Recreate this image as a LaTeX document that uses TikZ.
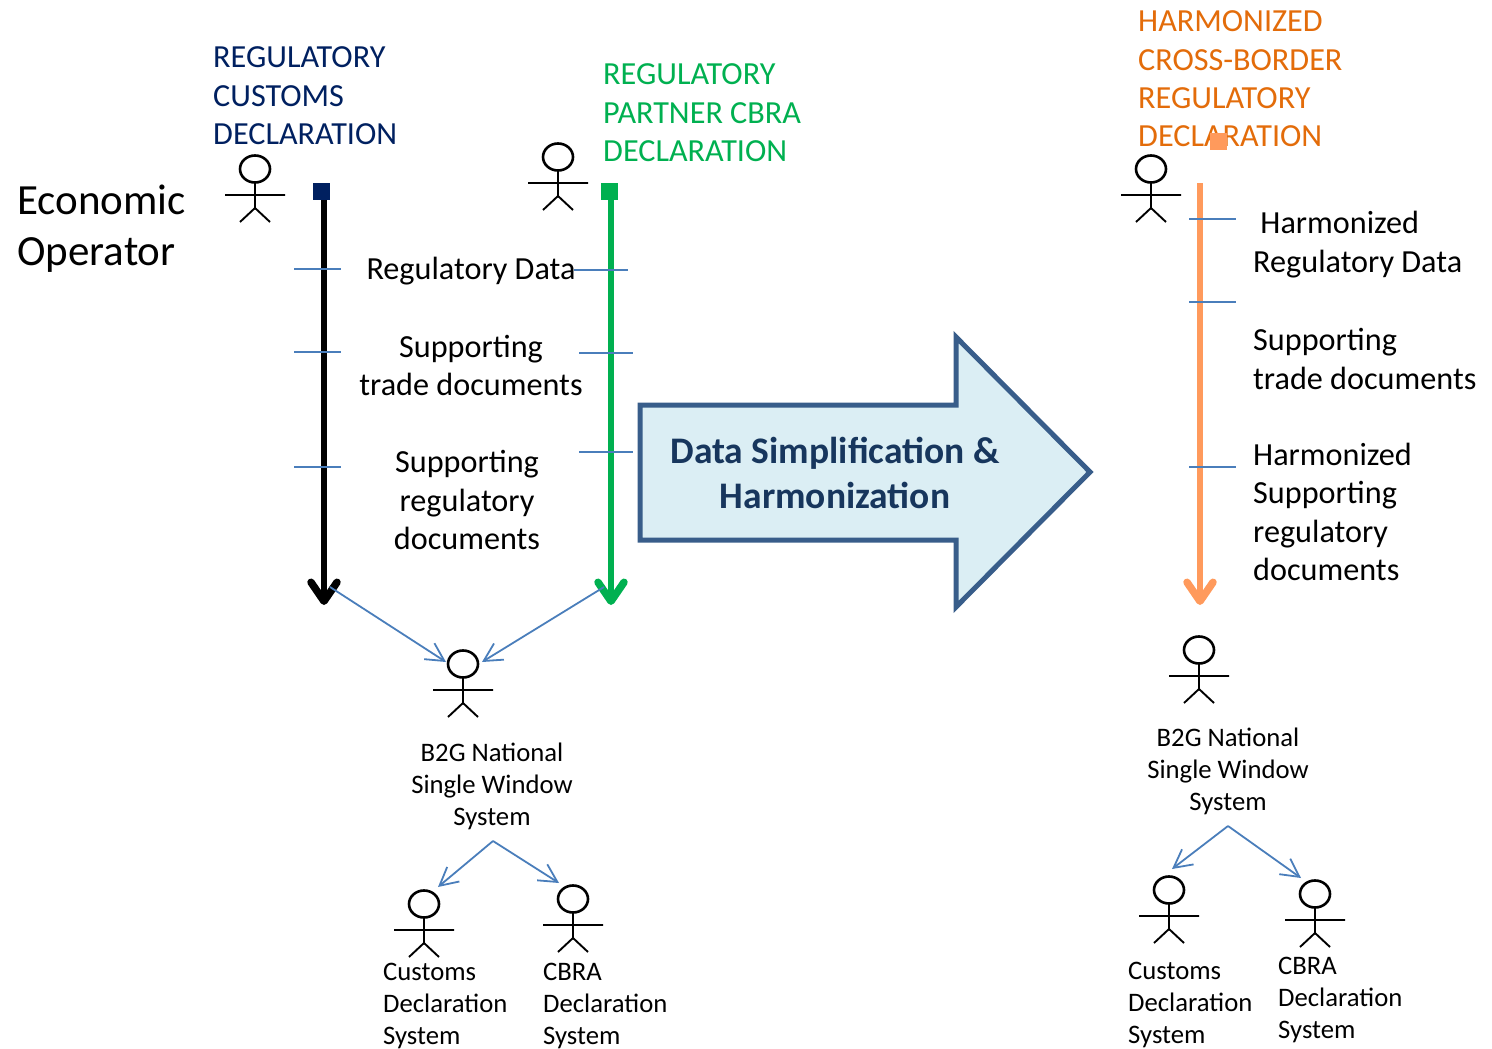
\documentclass[tikz,border=0pt]{standalone}
\usepackage{fontspec}
\setmainfont{Carlito}
\usetikzlibrary{arrows.meta}
\definecolor{navy}{HTML}{002060}
\definecolor{grn}{HTML}{00B050}
\definecolor{org}{HTML}{E36C0A}
\definecolor{peach}{HTML}{FF9A5C}
\definecolor{thin}{HTML}{4A7EBB}
\definecolor{bluedge}{HTML}{385D8A}
\definecolor{bluefill}{HTML}{DBEEF4}
\definecolor{bluetxt}{HTML}{17365D}
\tikzset{
  x=1pt,y=-1pt,
  actor/.pic={
    \draw[line width=2.6pt,fill=white] (0,-21) ellipse [x radius=15,y radius=13.5];
    \draw[line width=1.9pt] (0,-7.5) -- (0,18) (-30,5) -- (30,5) (-15,32) -- (0,18) -- (15,32);
  },
  lab/.style={inner sep=0,align=left,anchor=west,font=\fontsize{32.2}{38.4}\selectfont},
  ctr/.style={inner sep=0,align=center,anchor=center,font=\fontsize{32.2}{38.4}\selectfont},
  small/.style={inner sep=0,align=left,anchor=west,font=\fontsize{26.7}{32}\selectfont},
  smallc/.style={inner sep=0,align=center,anchor=center,font=\fontsize{26.7}{32}\selectfont},
  tick/.style={draw=thin,line width=1.5pt},
  flow/.style={line width=6.5pt,-{Straight Barb[round,length=19pt,width=26pt,line width=7.5pt]}},
  thinarrow/.style={draw=thin,line width=1.8pt,-{Straight Barb[length=18pt,width=19pt,line width=1.8pt]}},
}
\begin{document}
\begin{tikzpicture}
\useasboundingbox (0,0) rectangle (1492,1049);
% actors
\pic at (255,190) {actor};
\pic at (558,178) {actor};
\pic at (1151,190) {actor};
\pic at (463,685) {actor};
\pic at (1199,671) {actor};
\pic at (424,925) {actor};
\pic at (573,920) {actor};
\pic at (1169,911) {actor};
\pic at (1315,915) {actor};
% headings
\node[lab,text=navy] (t1) at (213,96) {REGULATORY\\CUSTOMS\\DECLARATION};
\node[lab,text=grn] (t2) at (603,113) {REGULATORY\\PARTNER CBRA\\DECLARATION};
\node[lab,text=org] (t3) at (1138,79) {HARMONIZED\\CROSS-BORDER\\REGULATORY\\DECLARATION};
\node[inner sep=0,align=left,anchor=west,font=\fontsize{43}{51}\selectfont] (eo) at (17,229) {Economic\\Operator};
% flow lines
\coordinate (a1) at (324,183); \coordinate (a2) at (324,605);
\coordinate (b1) at (611,183); \coordinate (b2) at (611,605);
\coordinate (c1) at (1200,183); \coordinate (c2) at (1200,605);
\draw[flow,black] (a1) -- (a2);
\draw[flow,grn] (b1) -- (b2);
\draw[flow,peach] (c1) -- (c2);
\node[fill=navy,minimum size=17pt,inner sep=0] (sq1) at (321.5,191) {};
\node[fill=grn,minimum size=17pt,inner sep=0] (sq2) at (609,191) {};
\node[fill=peach,minimum size=17pt,inner sep=0] (sq3) at (1218,141.5) {};
% ticks
\foreach \n/\xa/\xb/\y in {k1/294/341/269,k2/294/341/352,k3/294/341/467,k4/574/628/270,k5/579/633/353,k6/579/633/452,k7/1189/1236/219,k8/1189/1236/302,k9/1189/1236/467}{
  \coordinate (\n a) at (\xa,\y); \coordinate (\n b) at (\xb,\y);
  \draw[tick] (\n a) -- (\n b);
}
% middle labels
\node[ctr] (m1) at (471,271) {Regulatory Data};
\node[ctr] (m2) at (471,365.5) {Supporting\\trade documents};
\node[ctr] (m3) at (467,500) {Supporting\\regulatory\\documents};
% right labels
\node[lab] (r1) at (1253,244.5) {\ Harmonized\\Regulatory Data};
\node[lab] (r2) at (1253,359) {Supporting\\trade documents};
\node[lab] (r3) at (1253,512) {Harmonized\\Supporting\\regulatory\\documents};
% big arrow
\draw[bluedge,line width=5pt,fill=bluefill,miter limit=10]
  (640,405) -- (956,405) -- (956,337) -- (1090,472) -- (956,607) -- (956,540) -- (640,540) -- cycle;
\node[inner sep=0,align=center,text=bluetxt,font=\bfseries\fontsize{37.5}{45}\selectfont] (big) at (835,473) {Data Simplification \&\\Harmonization};
% system labels
\node[smallc] (s1) at (492,786) {B2G National\\Single Window\\System};
\node[smallc] (s2) at (1228,771) {B2G National\\Single Window\\System};
\node[small] (s3) at (383,1006) {Customs\\Declaration\\System};
\node[small] (s4) at (543,1006) {CBRA\\Declaration\\System};
\node[small] (s5) at (1128,1005) {Customs\\Declaration\\System};
\node[small] (s6) at (1278,1000) {CBRA\\Declaration\\System};
% thin arrows
\coordinate (p1) at (330,587); \coordinate (p2) at (446,662);
\coordinate (p3) at (604,587); \coordinate (p4) at (482,662);
\coordinate (q0) at (493,841); \coordinate (q1) at (438,887); \coordinate (q2) at (559,883);
\coordinate (u0) at (1228,826); \coordinate (u1) at (1172,869); \coordinate (u2) at (1301,878);
\draw[thinarrow] (p1) -- (p2);
\draw[thinarrow] (p3) -- (p4);
\draw[thinarrow] (q0) -- (q1);
\draw[thinarrow] (q0) -- (q2);
\draw[thinarrow] (u0) -- (u1);
\draw[thinarrow] (u0) -- (u2);
\end{tikzpicture}
\end{document}
